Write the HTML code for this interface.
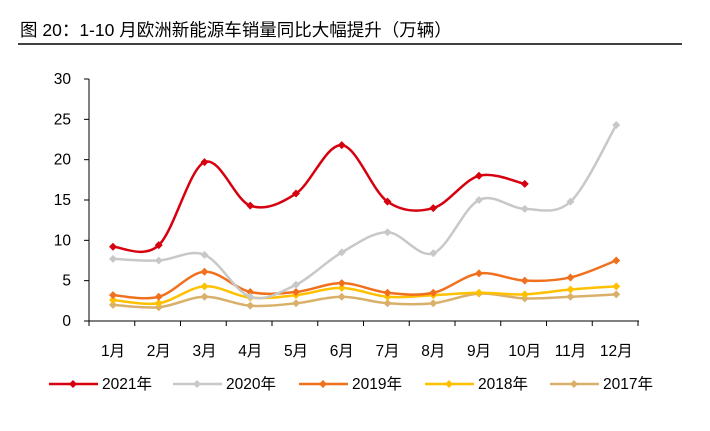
<!DOCTYPE html>
<html><head><meta charset="utf-8"><style>
body{margin:0;background:#fff;width:710px;height:426px;overflow:hidden;font-family:"Liberation Sans","Noto Sans CJK SC",sans-serif;}
</style></head><body>
<svg id="s" width="710" height="426" xmlns="http://www.w3.org/2000/svg" font-family="Liberation Sans, Noto Sans CJK SC, sans-serif">
<text x="20" y="36" font-size="17.5" fill="#000">图 20：1-10 月欧洲新能源车销量同比大幅提升（万辆）</text>
<line x1="18" y1="44" x2="682" y2="44" stroke="#000" stroke-width="1.5"/>
<g id="ax" stroke="#000" stroke-width="1"></g>
<g id="lbl" font-size="15.5" fill="#000"></g>
<g id="ser"></g>
<g id="leg" font-size="15.5" fill="#000"></g>
</svg>
<script>
var NS="http://www.w3.org/2000/svg";
function el(p,t,a,txt){var e=document.createElementNS(NS,t);for(var k in a)e.setAttribute(k,a[k]);if(txt)e.textContent=txt;document.getElementById(p).appendChild(e);}
var X0=89,X1=639,Y0=321,Y30=79,dx=45.75;
function X(i){return 113+i*dx;} function Y(v){return Y0-(Y0-Y30)*v/30;}
el("ax","line",{x1:X0,y1:Y30,x2:X0,y2:Y0});
el("ax","line",{x1:X0,y1:Y0,x2:X1,y2:Y0});
for(var v=0;v<=30;v+=5){el("ax","line",{x1:X0-5,y1:Y(v),x2:X0,y2:Y(v)});el("lbl","text",{x:X0-18,y:Y(v)+5,"text-anchor":"end"},String(v));}
for(var i=0;i<=12;i++){var x=X0+i*dx;el("ax","line",{x1:x,y1:Y0,x2:x,y2:Y0+5});}
for(var i=0;i<12;i++)el("lbl","text",{x:X(i),y:356,"text-anchor":"middle"},(i+1)+"月");
var S=[
["2017年","#d9b06a",[2.0,1.7,3.0,1.9,2.2,3.0,2.2,2.2,3.4,2.8,3.0,3.3]],
["2018年","#ffc000",[2.6,2.2,4.3,2.9,3.2,4.1,3.0,3.2,3.5,3.3,3.9,4.3]],
["2019年","#f0701e",[3.2,3.0,6.1,3.6,3.6,4.7,3.5,3.5,5.9,5.0,5.4,7.5]],
["2020年","#c8c8c8",[7.7,7.5,8.2,3.0,4.5,8.5,11.0,8.4,15.0,13.9,14.8,24.3]],
["2021年","#d7000f",[9.2,9.4,19.7,14.3,15.8,21.8,14.8,14.0,18.0,17.0]]];
function path(d){var p=d.map(function(v,i){return [X(i),Y(v)];});var s="M"+p[0][0]+","+p[0][1];
for(var i=0;i<p.length-1;i++){var a=p[Math.max(i-1,0)],b=p[i],c=p[i+1],e=p[Math.min(i+2,p.length-1)],t=1/6;
s+=" C"+(b[0]+(c[0]-a[0])*t)+","+(b[1]+(c[1]-a[1])*t)+" "+(c[0]-(e[0]-b[0])*t)+","+(c[1]-(e[1]-b[1])*t)+" "+c[0]+","+c[1];}return s;}
S.forEach(function(s){el("ser","path",{d:path(s[2]),fill:"none",stroke:s[1],"stroke-width":2.5});
s[2].forEach(function(v,i){var x=X(i),y=Y(v);el("ser","polygon",{points:(x-4)+","+y+" "+x+","+(y-4)+" "+(x+4)+","+y+" "+x+","+(y+4),fill:s[1]});});});
var L=[[49,"2021年","#d7000f"],[173,"2020年","#c8c8c8"],[299,"2019年","#f0701e"],[425,"2018年","#ffc000"],[550,"2017年","#d9b06a"]];
L.forEach(function(l){var x=l[0],y=384;el("leg","line",{x1:x,y1:y,x2:x+49,y2:y,stroke:l[2],"stroke-width":2.5});
el("leg","polygon",{points:(x+20)+","+y+" "+(x+24)+","+(y-4)+" "+(x+28)+","+y+" "+(x+24)+","+(y+4),fill:l[2]});
el("leg","text",{x:x+53,y:y+5},l[1]);});
</script>
</body></html>
